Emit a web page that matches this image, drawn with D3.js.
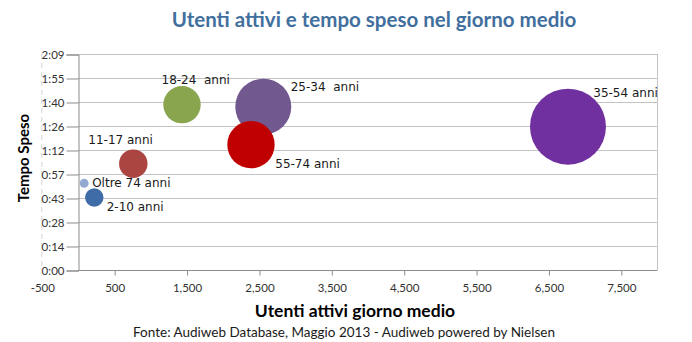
<!DOCTYPE html>
<html>
<head>
<meta charset="utf-8">
<script src="https://cdn.jsdelivr.net/npm/d3@7"></script>
<style>
  html, body { margin: 0; padding: 0; background: #ffffff; }
  svg { display: block; }
</style>
</head>
<body>
<svg id="chart" width="692" height="342"></svg>
<script>
// Fasce d'età
const categorie = ["2-10 anni", "11-17 anni", "18-24  anni", "25-34  anni", "35-54 anni", "55-74 anni", "Oltre 74 anni"];
// Utenti attivi nel giorno medio (migliaia)
const utentiAttivi = [225, 764, 1437, 2560, 6770, 2390, 85];
// Tempo speso (minuti)
const tempoSpeso = [43.5, 63.8, 99.2, 98, 86, 75.2, 52];
// Dimensione delle bolle
const dimensione = [85, 202, 350, 784, 1444, 562, 20];
const colori = ["#3f6ca6", "#ab4542", "#89a54e", "#71588f", "#7030a0", "#c00000", "#93a9d1"];

// Assi
const xTickValori = [-500, 500, 1500, 2500, 3500, 4500, 5500, 6500, 7500];
const yTickValori = [0, 14.4, 28.8, 43.2, 57.6, 72, 86.4, 100.8, 115.2, 129.6];
const yTickEtichette = ["0:00", "0:14", "0:28", "0:43", "0:57", "1:12", "1:26", "1:40", "1:55", "2:09"];

const titolo = "Utenti attivi e tempo speso nel giorno medio";
const titoloX = "Utenti attivi giorno medio";
const titoloY = "Tempo Speso";
const fonte = "Fonte: Audiweb Database, Maggio 2013 - Audiweb powered by Nielsen";

// Posizione delle etichette rispetto al centro della bolla (dx, dy della linea di base)
const posEtichette = {
  "2-10 anni": [12.4, 13.5],
  "11-17 anni": [-45, -19.5],
  "18-24  anni": [-20.5, -20.7],
  "25-34  anni": [27.4, -15.2],
  "35-54 anni": [25.3, -29.4],
  "55-74 anni": [24.3, 23.8],
  "Oltre 74 anni": [8, 3.6]
};

const svg = d3.select("#chart");
const areaSx = 78, areaDx = 657, areaAlto = 54, areaBasso = 270;

const x = d3.scaleLinear().domain([0, 8000]).range([areaSx, areaDx]);
const y = d3.scaleLinear().domain([0, 129.6]).range([areaBasso, areaAlto]);
const r = d3.scaleSqrt().domain([0, d3.max(dimensione)]).range([0, 38]);

// Numeri con separatore delle migliaia e trattino come segno meno
const formatoX = d3.formatLocale({ decimal: ".", thousands: ",", grouping: [3], currency: ["", ""], minus: "-" }).format(",");

svg.append("rect").attr("width", 692).attr("height", 342).attr("fill", "#ffffff");

// Titolo
svg.append("text")
  .attr("x", 374).attr("y", 27)
  .attr("text-anchor", "middle")
  .attr("font-family", "Lato, 'Open Sans', sans-serif")
  .attr("font-weight", "bold")
  .attr("font-size", 20.5)
  .attr("fill", "#416f9e")
  .text(titolo);

// Linea tratteggiata a sinistra delle etichette
svg.append("line")
  .attr("x1", x(-500)).attr("x2", x(-500))
  .attr("y1", areaAlto).attr("y2", areaBasso)
  .attr("stroke", "#d4d4d4").attr("stroke-dasharray", "5,4");

// Griglia orizzontale
svg.append("g").selectAll("line")
  .data(yTickValori.slice(1))
  .join("line")
  .attr("x1", areaSx).attr("x2", areaDx)
  .attr("y1", d => Math.round(y(d)) + 0.5).attr("y2", d => Math.round(y(d)) + 0.5)
  .attr("stroke", "#c4c4c4");

// Bordo destro dell'area del grafico
svg.append("line")
  .attr("x1", areaDx + 0.5).attr("x2", areaDx + 0.5)
  .attr("y1", areaAlto).attr("y2", areaBasso)
  .attr("stroke", "#c4c4c4");

// Asse Y
const yAxis = d3.axisLeft(y)
  .tickValues(yTickValori)
  .tickFormat((d, i) => yTickEtichette[i])
  .tickSize(12)
  .tickPadding(2);
const gy = svg.append("g").attr("transform", `translate(${areaSx + 0.5},0.5)`).call(yAxis);
gy.select(".domain").attr("stroke", "#8c8c8c");
gy.selectAll(".tick line").attr("stroke", "#8c8c8c");
gy.selectAll(".tick text")
  .attr("font-family", "Lato, 'Open Sans', sans-serif")
  .attr("font-size", 11.5)
  .attr("fill", "#333333");

// Asse X
const xAxis = d3.axisBottom(x)
  .tickValues(xTickValori)
  .tickFormat(formatoX)
  .tickSize(5)
  .tickPadding(8);
const gx = svg.append("g").attr("transform", `translate(0.5,${areaBasso + 0.5})`).call(xAxis);
gx.select(".domain").remove();
gx.append("line").attr("x1", areaSx).attr("x2", areaDx).attr("stroke", "#8c8c8c");
gx.selectAll(".tick line").attr("stroke", "#8c8c8c").attr("display", d => d < 0 ? "none" : null);
gx.selectAll(".tick text")
  .attr("font-family", "Lato, 'Open Sans', sans-serif")
  .attr("font-size", 11.5)
  .attr("fill", "#333333");

// Bolle nell'ordine delle serie
const dati = categorie.map((c, i) => ({
  nome: c, x: utentiAttivi[i], y: tempoSpeso[i], s: dimensione[i], colore: colori[i]
}));
svg.append("g").selectAll("circle")
  .data(dati)
  .join("circle")
  .attr("cx", d => x(d.x))
  .attr("cy", d => y(d.y))
  .attr("r", d => r(d.s))
  .attr("fill", d => d.colore);

// Etichette delle bolle
svg.append("g").selectAll("text")
  .data(dati)
  .join("text")
  .attr("x", d => x(d.x) + posEtichette[d.nome][0])
  .attr("y", d => y(d.y) + posEtichette[d.nome][1])
  .attr("font-family", "'DejaVu Sans', Verdana, sans-serif")
  .attr("font-size", 12)
  .attr("fill", "#1a1a1a")
  .style("white-space", "pre")
  .text(d => d.nome);

// Titoli degli assi
svg.append("text")
  .attr("x", 355).attr("y", 317)
  .attr("text-anchor", "middle")
  .attr("font-family", "Lato, 'Open Sans', sans-serif")
  .attr("font-weight", "bold")
  .attr("font-size", 17.5)
  .attr("fill", "#000000")
  .text(titoloX);

svg.append("text")
  .attr("transform", "translate(29,158) rotate(-90)")
  .attr("text-anchor", "middle")
  .attr("font-family", "Lato, 'Open Sans', sans-serif")
  .attr("font-weight", "bold")
  .attr("font-size", 15)
  .attr("fill", "#000000")
  .text(titoloY);

// Fonte
svg.append("text")
  .attr("x", 344).attr("y", 337)
  .attr("text-anchor", "middle")
  .attr("font-family", "Lato, 'Open Sans', sans-serif")
  .attr("font-size", 13.5)
  .attr("fill", "#1a1a1a")
  .text(fonte);
</script>
</body>
</html>
